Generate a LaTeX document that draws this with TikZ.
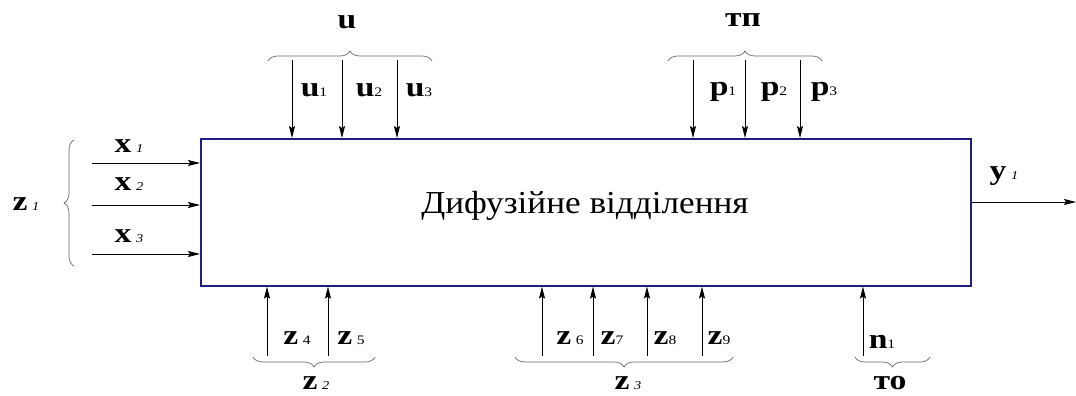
\documentclass[tikz,border=0pt]{standalone}
\usepackage{fontspec}
\setmainfont{Liberation Serif}
\newfontfamily\labfont[FakeStretch=1.2]{Liberation Serif}
\newfontfamily\titfont[FakeStretch=1.1]{Liberation Serif}
\usetikzlibrary{arrows.meta,decorations.pathreplacing}
\definecolor{navy}{RGB}{30,30,130}
\newcommand\isub[1]{{\fontsize{12}{12}\selectfont\mdseries\itshape #1}}
\newcommand\rsub[1]{{\fontsize{13}{13}\selectfont\mdseries #1}}
\begin{document}
\begin{tikzpicture}[x=1pt,y=-1pt,
  arr/.style={-{Stealth[length=12pt,width=6pt,inset=2pt]}, line width=0.9pt},
  br/.style={decorate, decoration={brace, amplitude=10pt}, black!60, line width=0.7pt},
  lab/.style={font=\labfont\fontsize{28}{28}\selectfont\bfseries, inner sep=0pt},
  boxst/.style={draw=navy, line width=1.6pt, minimum width=770pt, minimum height=147pt, anchor=north west, inner sep=0pt}]
\useasboundingbox (0,0) rectangle (1076,396);
\node[boxst] (box) at (200,138) {};
\node[anchor=base, inner sep=0pt, font=\titfont\fontsize{32}{32}\selectfont] (title) at (585,213) {Дифузійне відділення};
% left inputs
\coordinate (x1s) at (92,163);
\coordinate (x2s) at (92,205);
\coordinate (x3s) at (92,254);
\draw[arr] (x1s) -- (x1s -| box.west);
\draw[arr] (x2s) -- (x2s -| box.west);
\draw[arr] (x3s) -- (x3s -| box.west);
\node[lab] (lx1) at (129,146) {x\,\isub{1}};
\node[lab] (lx2) at (129,184) {x\,\isub{2}};
\node[lab] (lx3) at (129,236) {x\,\isub{3}};
\coordinate (bz1a) at (74,266);
\coordinate (bz1b) at (74,140);
\draw[br] (bz1a) -- (bz1b);
\node[lab] (lz1) at (26,204) {z\,\isub{1}};
% top u
\coordinate (u1s) at (292,60);
\coordinate (u2s) at (342,60);
\coordinate (u3s) at (397,60);
\draw[arr] (u1s) -- (u1s |- box.north);
\draw[arr] (u2s) -- (u2s |- box.north);
\draw[arr] (u3s) -- (u3s |- box.north);
\node[lab] (lu1) at (314,90) {u\rsub{1}};
\node[lab] (lu2) at (369,90) {u\rsub{2}};
\node[lab] (lu3) at (419,90) {u\rsub{3}};
\coordinate (bua) at (268,61);
\coordinate (bub) at (432,61);
\draw[br] (bua) -- (bub);
\node[lab] (lu) at (347,22) {u};
% top p
\coordinate (p1s) at (693,60);
\coordinate (p2s) at (745,60);
\coordinate (p3s) at (800,60);
\draw[arr] (p1s) -- (p1s |- box.north);
\draw[arr] (p2s) -- (p2s |- box.north);
\draw[arr] (p3s) -- (p3s |- box.north);
\node[lab] (lp1) at (723,92) {p\rsub{1}};
\node[lab] (lp2) at (774,92) {p\rsub{2}};
\node[lab] (lp3) at (824,92) {p\rsub{3}};
\coordinate (bpa) at (668,61);
\coordinate (bpb) at (822,61);
\draw[br] (bpa) -- (bpb);
\node[lab] (ltp) at (743,20) {тп};
% bottom z4 z5
\coordinate (z4s) at (267,356);
\coordinate (z5s) at (328,356);
\draw[arr] (z4s) -- (z4s |- box.south);
\draw[arr] (z5s) -- (z5s |- box.south);
\node[lab] (lz4) at (297,338) {z\,\rsub{4}};
\node[lab] (lz5) at (351,338) {z\,\rsub{5}};
\coordinate (bz2a) at (375,357);
\coordinate (bz2b) at (253,357);
\draw[br] (bz2a) -- (bz2b);
\node[lab] (lz2) at (316,383) {z\,\isub{2}};
% bottom z6..z9
\coordinate (z6s) at (542,356);
\coordinate (z7s) at (593,356);
\coordinate (z8s) at (647,356);
\coordinate (z9s) at (702,356);
\draw[arr] (z6s) -- (z6s |- box.south);
\draw[arr] (z7s) -- (z7s |- box.south);
\draw[arr] (z8s) -- (z8s |- box.south);
\draw[arr] (z9s) -- (z9s |- box.south);
\node[lab] (lz6) at (570,338) {z\,\rsub{6}};
\node[lab] (lz7) at (612,338) {z\rsub{7}};
\node[lab] (lz8) at (665,338) {z\rsub{8}};
\node[lab] (lz9) at (719,338) {z\rsub{9}};
\coordinate (bz3a) at (733,357);
\coordinate (bz3b) at (515,357);
\draw[br] (bz3a) -- (bz3b);
\node[lab] (lz3) at (628,383) {z\,\isub{3}};
% n1
\coordinate (n1s) at (863,356);
\draw[arr] (n1s) -- (n1s |- box.south);
\node[lab] (ln1) at (882,342) {n\rsub{1}};
\coordinate (bna) at (930,357);
\coordinate (bnb) at (855,357);
\draw[br] (bna) -- (bnb);
\node[lab] (lto) at (890,383) {то};
% output
\coordinate (y1e) at (1076,202);
\draw[arr] (y1e -| box.east) -- (y1e);
\node[lab] (ly1) at (1004,176) {y\,\isub{1}};
\end{tikzpicture}
\end{document}
